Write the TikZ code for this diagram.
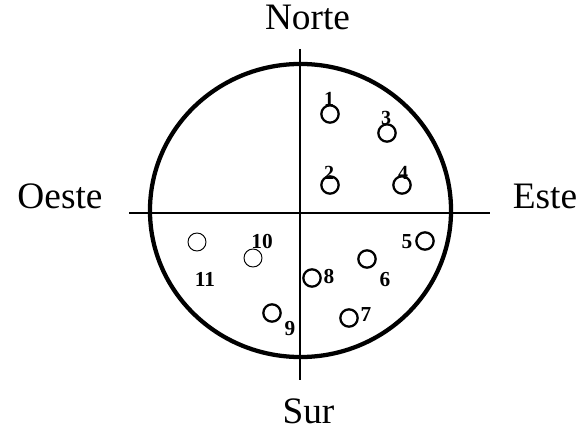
\documentclass[tikz,border=0pt]{standalone}
\usepackage{fontspec}
\setmainfont{Liberation Serif}
\usepackage{tikz}

\begin{document}
\begin{tikzpicture}[
    x=0.75pt, y=-0.75pt,
    dirlabel/.style={anchor=base, inner sep=0pt, font=\fontsize{28}{30}\selectfont},
    hole/.style={circle, draw=black, line width=1.7pt, minimum size=13pt, inner sep=0pt},
    faint/.style={hole, line width=0.7pt, minimum size=13.5pt},
    numlabel/.style={inner sep=0pt, font=\fontsize{16}{18}\selectfont\bfseries},
    thinlabel/.style={inner sep=0pt, font=\fontsize{15}{18}\selectfont\bfseries},
    rim/.style={line width=3.2pt},
    axis/.style={line width=1.6pt}
]
    \path[use as bounding box] (0,0) rectangle (579,435);

    % rim and axes
    \coordinate (ctr) at (300.5,210.5);
    \coordinate (n) at (300,49);
    \coordinate (s) at (300,380);
    \coordinate (w) at (129,213);
    \coordinate (e) at (490,213);
    \draw[rim] (ctr) ellipse [x radius=112.9pt, y radius=109.9pt];
    \draw[axis] (n) -- (s);
    \draw[axis] (w) -- (e);

    % directions
    \node (norte) [dirlabel] at (307.5,30) {Norte};
    \node (sur) [dirlabel] at (308.5,423) {Sur};
    \node (oeste) [dirlabel] at (60,209) {Oeste};
    \node (este) [dirlabel] at (545,209) {Este};

    % points
    \node (c1) [hole] at (330,114) {};
    \node (c2) [hole] at (330,185) {};
    \node (c3) [hole] at (387,133) {};
    \node (c4) [hole] at (402,185) {};
    \node (c5) [hole] at (425,241) {};
    \node (c6) [hole] at (367,259) {};
    \node (c7) [hole] at (349,318) {};
    \node (c8) [hole] at (312,278) {};
    \node (c9) [hole] at (272,313) {};
    \node (c10) [faint] at (253,258) {};
    \node (c11) [faint] at (197,242) {};

    % numbers
    \node (l1) [thinlabel] at (329,99) {1};
    \node (l2) [thinlabel] at (329,173) {2};
    \node (l3) [thinlabel] at (386,118) {3};
    \node (l4) [thinlabel] at (403,173) {4};
    \node (l5) [numlabel] at (407,242) {5};
    \node (l6) [numlabel] at (385,280) {6};
    \node (l7) [numlabel] at (366,315) {7};
    \node (l8) [numlabel] at (329,277) {8};
    \node (l9) [numlabel] at (290,329) {9};
    \node (l10) [numlabel] at (262,242) {10};
    \node (l11) [numlabel] at (205,279) {11};
\end{tikzpicture}
\end{document}
